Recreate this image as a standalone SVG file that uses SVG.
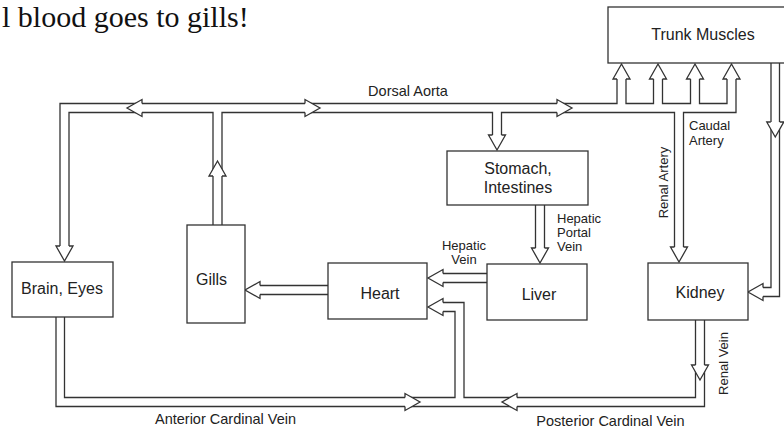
<svg xmlns="http://www.w3.org/2000/svg" xmlns:xlink="http://www.w3.org/1999/xlink" width="784" height="428" viewBox="0 0 784 428">
<style>
.box{fill:#fff;stroke:#333;stroke-width:1.3}
.tube{fill:none;stroke:#333;stroke-width:1.3;stroke-linejoin:miter}
.ah{fill:#fff;stroke:#333;stroke-width:1.3;stroke-linejoin:miter}
.lbl{font-family:"Liberation Sans",Arial,Helvetica,sans-serif;font-size:16px;fill:#222;text-anchor:middle}
.sm{font-family:"Liberation Sans",Arial,Helvetica,sans-serif;font-size:13px;fill:#222}
.md{font-family:"Liberation Sans",Arial,Helvetica,sans-serif;font-size:14.5px;fill:#222;text-anchor:middle}
.title{font-family:"Liberation Serif","Times New Roman",serif;font-size:30px;fill:#111}
</style>
<defs>
<path id="ah" d="M-4.5,15 L-8.5,15 L0,0 L8.5,15 L4.5,15"/>
</defs>
<rect width="784" height="428" fill="#fff"/>
<text class="title" x="2" y="27">l blood goes to gills!</text>

<g id="connectors">
  <!-- arterial tubes -->
  <path class="tube" d="M60,246 V103.5 H617 V79"/>
  <path class="tube" d="M626,79 V103.5 H653.5 V79"/>
  <path class="tube" d="M662.5,79 V103.5 H690.5 V79"/>
  <path class="tube" d="M699.5,79 V103.5 H727 V79"/>
  <path class="tube" d="M736,79 V112.5 H683.5 V247"/>
  <path class="tube" d="M674.5,247 V112.5 H501.5 V135"/>
  <path class="tube" d="M492.5,135 V112.5 H222 V225"/>
  <path class="tube" d="M213,225 V112.5 H69 V246"/>
  <!-- return from trunk muscles to kidney -->
  <path class="tube" d="M771,63 V287.5 H763"/>
  <path class="tube" d="M779.5,63 V296.5 H763"/>
  <!-- venous tubes -->
  <path class="tube" d="M56,317 V406.5 H704.5 V320"/>
  <path class="tube" d="M64.5,317 V397.5 H455 V311.5 H443"/>
  <path class="tube" d="M443,302.5 H464 V397.5 H695.5 V320"/>
  <!-- hepatic portal -->
  <path class="tube" d="M535.5,205 V248 M544.5,205 V248"/>
  <!-- hepatic vein -->
  <path class="tube" d="M487,273.5 H443 M487,282.5 H443"/>
  <!-- heart to gills -->
  <path class="tube" d="M328,285.5 H260 M328,294.5 H260"/>

  <!-- arrowheads -->
  <use xlink:href="#ah" class="ah" transform="translate(127,108) rotate(-90)"/>
  <use xlink:href="#ah" class="ah" transform="translate(320,108) rotate(90)"/>
  <use xlink:href="#ah" class="ah" transform="translate(572,108) rotate(90)"/>
  <use xlink:href="#ah" class="ah" transform="translate(217.5,161)"/>
  <use xlink:href="#ah" class="ah" transform="translate(64.5,261) rotate(180)"/>
  <use xlink:href="#ah" class="ah" transform="translate(497,150) rotate(180)"/>
  <use xlink:href="#ah" class="ah" transform="translate(621.5,64)"/>
  <use xlink:href="#ah" class="ah" transform="translate(658,64)"/>
  <use xlink:href="#ah" class="ah" transform="translate(695,64)"/>
  <use xlink:href="#ah" class="ah" transform="translate(731.5,64)"/>
  <use xlink:href="#ah" class="ah" transform="translate(775.25,137) rotate(180)"/>
  <use xlink:href="#ah" class="ah" transform="translate(748,292) rotate(-90)"/>
  <use xlink:href="#ah" class="ah" transform="translate(679,262) rotate(180)"/>
  <use xlink:href="#ah" class="ah" transform="translate(700,380) rotate(180)"/>
  <use xlink:href="#ah" class="ah" transform="translate(540,263) rotate(180)"/>
  <use xlink:href="#ah" class="ah" transform="translate(428,278) rotate(-90)"/>
  <use xlink:href="#ah" class="ah" transform="translate(245,290) rotate(-90)"/>
  <use xlink:href="#ah" class="ah" transform="translate(428,307) rotate(-90)"/>
  <use xlink:href="#ah" class="ah" transform="translate(420,402) rotate(90)"/>
  <use xlink:href="#ah" class="ah" transform="translate(502,402) rotate(-90)"/>

  <!-- connector labels -->
  <text class="md" x="408" y="96">Dorsal Aorta</text>
  <text class="sm" x="689" y="130">Caudal</text>
  <text class="sm" x="689" y="145">Artery</text>
  <text class="sm" x="557" y="223">Hepatic</text>
  <text class="sm" x="557" y="237">Portal</text>
  <text class="sm" x="557" y="251">Vein</text>
  <text class="sm" x="464" y="250" text-anchor="middle">Hepatic</text>
  <text class="sm" x="464" y="264" text-anchor="middle">Vein</text>
  <text class="sm" transform="translate(668,182.5) rotate(-90)" text-anchor="middle">Renal Artery</text>
  <text class="sm" transform="translate(728,363.5) rotate(-90)" text-anchor="middle">Renal Vein</text>
  <text class="md" x="225.5" y="424">Anterior Cardinal Vein</text>
  <text class="md" x="610.5" y="426">Posterior Cardinal Vein</text>
</g>

<g id="trunk-muscles"><rect class="box" x="608" y="7" width="190" height="56"/><text class="lbl" x="703" y="40">Trunk Muscles</text></g>
<g id="stomach-intestines"><rect class="box" x="447" y="151" width="141" height="54"/><text class="lbl" x="518" y="174">Stomach,</text><text class="lbl" x="518" y="193">Intestines</text></g>
<g id="brain-eyes"><rect class="box" x="12" y="262" width="101" height="55"/><text class="lbl" x="62" y="294">Brain, Eyes</text></g>
<g id="gills"><rect class="box" x="187" y="225" width="58" height="98"/><text class="lbl" x="211.5" y="285">Gills</text></g>
<g id="heart"><rect class="box" x="328" y="263" width="99" height="56"/><text class="lbl" x="380" y="299">Heart</text></g>
<g id="liver"><rect class="box" x="487" y="264" width="100" height="56"/><text class="lbl" x="539" y="300">Liver</text></g>
<g id="kidney"><rect class="box" x="648" y="263" width="100" height="57"/><text class="lbl" x="700" y="298">Kidney</text></g>
</svg>
